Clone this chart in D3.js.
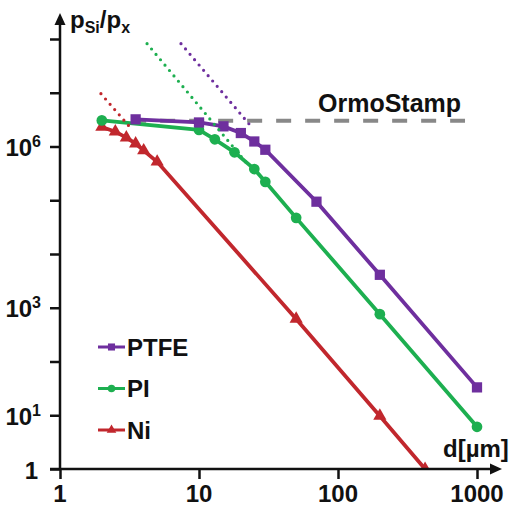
<!DOCTYPE html>
<html>
<head>
<meta charset="utf-8">
<script src="https://cdn.jsdelivr.net/npm/d3@7"></script>
<style>
  body { margin: 0; background: #fff; }
  svg text { font-family: Arial, "Liberation Sans", sans-serif; font-weight: bold; fill: #111; }
</style>
</head>
<body>
<svg id="chart" width="511" height="508"></svg>
<script>
var xTicks = [1, 10, 100, 1000];
var yTicks = [1, 10, 100, 1e3, 1e4, 1e5, 1e6, 1e7, 1e8];
var yLabels = [{v: 1, base: "1", sup: ""}, {v: 10, base: "10", sup: "1"}, {v: 1e3, base: "10", sup: "3"}, {v: 1e6, base: "10", sup: "6"}];

var ptfeD = [3.5, 10, 15, 20, 25, 30, 70, 200, 1000];
var ptfeV = [3.2e6, 2.8e6, 2.37e6, 1.78e6, 1.24e6, 8.7e5, 9.4e4, 4.1e3, 33];
var piD = [2, 10, 13, 18, 25, 30, 50, 200, 1000];
var piV = [3.06e6, 2.03e6, 1.36e6, 7.8e5, 3.8e5, 2.2e5, 4.7e4, 760, 6.1];
var niD = [2, 2.5, 3, 3.5, 4, 5, 50, 200, 423];
var niV = [2.3e6, 1.89e6, 1.46e6, 1.13e6, 8.4e5, 5.2e5, 620, 9.7, 1];

// d^-3 asymptotes (dotted)
var ptfeFitD = [7.42, 24.5], ptfeFitV = [8.2e7, 2.14e6];
var piFitD = [4.23, 22.5], piFitV = [8.2e7, 4.6e5];
var niFitD = [1.97, 3.35], niFitV = [9.6e6, 1.97e6];

var ormoD = [3.25, 820], ormoV = 3.0e6;

var series = [
  {name: "PTFE", color: "#6E2F9E", shape: d3.symbolSquare, size: 105, lsize: 50, d: ptfeD, v: ptfeV, fd: ptfeFitD, fv: ptfeFitV},
  {name: "PI", color: "#1DAF50", shape: d3.symbolCircle, size: 90, lsize: 45, d: piD, v: piV, fd: piFitD, fv: piFitV},
  {name: "Ni", color: "#C1272D", shape: d3.symbolTriangle, size: 75, lsize: 40, d: niD, v: niV, fd: niFitD, fv: niFitV}
];

var svg = d3.select("svg#chart");
var x = d3.scaleLog().domain([1, 1000]).range([60, 477]);
var y = d3.scaleLog().domain([1, 1e8]).range([469, 39]);

var pts = function(ds, vs) {
  return ds.map(function(d, i) { return [x(d), y(vs[i])]; });
};
var line = d3.line();

svg.append("defs").append("clipPath").attr("id", "plot")
  .append("rect").attr("x", x(1)).attr("y", 0).attr("width", 511).attr("height", y(1));

var plot = svg.append("g").attr("clip-path", "url(#plot)");

plot.append("path")
  .attr("d", line(pts(ormoD, ormoD.map(function() { return ormoV; }))))
  .style("fill", "none").style("stroke", "#888").style("stroke-width", 4)
  .style("stroke-dasharray", "15,14");

series.slice().reverse().forEach(function(s) {
  plot.append("path").attr("d", line(pts(s.d, s.v)))
    .style("fill", "none").style("stroke", s.color).style("stroke-width", 3.8);
  plot.selectAll("path.m-" + s.name).data(pts(s.d, s.v)).enter().append("path")
    .classed("m-" + s.name, true)
    .attr("transform", function(p) { return "translate(" + p[0] + "," + p[1] + ")"; })
    .attr("d", d3.symbol().type(s.shape).size(s.size))
    .style("fill", s.color);
});

series.forEach(function(s) {
  plot.append("path").attr("d", line(pts(s.fd, s.fv)))
    .style("fill", "none").style("stroke", s.color).style("stroke-width", 3.2)
    .style("stroke-linecap", "round").style("stroke-dasharray", "0,7");
});

svg.append("text").attr("x", 318).attr("y", 112).style("font-size", "25px").text("OrmoStamp");

// axes
var xAxis = svg.append("g").attr("transform", "translate(0," + y(1) + ")")
  .call(d3.axisBottom(x).tickValues(xTicks).tickSize(10).tickFormat(""));
var yAxis = svg.append("g").attr("transform", "translate(" + x(1) + ",0)")
  .call(d3.axisLeft(y).tickValues(yTicks).tickSize(10).tickFormat(""));
[xAxis, yAxis].forEach(function(a) {
  a.selectAll("path.domain").remove();
  a.selectAll("line").style("stroke", "#111").style("stroke-width", 2.5);
});

svg.append("line").attr("x1", x(1) - 10).attr("x2", x.range()[1] + 18)
  .attr("y1", y(1)).attr("y2", y(1)).style("stroke", "#111").style("stroke-width", 2.5);
svg.append("line").attr("x1", x(1)).attr("x2", x(1))
  .attr("y1", y(1)).attr("y2", y.range()[1] - 18).style("stroke", "#111").style("stroke-width", 2.5);
svg.append("path")
  .attr("d", "M" + (x.range()[1] + 25) + "," + y(1) + "l-12,-5.5v11z").style("fill", "#111");
svg.append("path")
  .attr("d", "M" + x(1) + "," + (y.range()[1] - 26) + "l-5.5,12h11z").style("fill", "#111");

svg.selectAll("text.xt").data(xTicks).enter().append("text").classed("xt", true)
  .attr("x", x).attr("y", y(1) + 33).attr("text-anchor", "middle")
  .style("font-size", "24px").text(function(d) { return d; });

var yl = svg.selectAll("text.yt").data(yLabels).enter().append("text").classed("yt", true)
  .attr("x", function(d) { return d.sup ? 41 : 38; })
  .attr("y", function(d) { return y(d.v) + 9.5; })
  .attr("text-anchor", "end").style("font-size", "24px");
yl.append("tspan").text(function(d) { return d.base; });
yl.append("tspan").attr("dy", -9).style("font-size", "16px").text(function(d) { return d.sup; });

var ttl = svg.append("text").attr("x", 70).attr("y", 28).style("font-size", "24px");
ttl.append("tspan").text("p");
ttl.append("tspan").attr("dy", 5).style("font-size", "16px").text("Si");
ttl.append("tspan").attr("dy", -5).text("/p");
ttl.append("tspan").attr("dy", 5).style("font-size", "16px").text("x");

svg.append("text").attr("x", 443).attr("y", 457).style("font-size", "24px").text("d[\u00b5m]");

// legend
var leg = svg.selectAll("g.leg").data(series).enter().append("g").classed("leg", true)
  .attr("transform", function(s, i) { return "translate(98," + (347 + i * 41.5) + ")"; });
leg.append("line").attr("x1", 0).attr("x2", 27)
  .style("stroke", function(s) { return s.color; }).style("stroke-width", 3);
leg.append("path").attr("transform", "translate(13.5,0)")
  .attr("d", function(s) { return d3.symbol().type(s.shape).size(s.lsize)(); })
  .style("fill", function(s) { return s.color; });
leg.append("text").attr("x", 29).attr("y", 8.5).style("font-size", "24px")
  .text(function(s) { return s.name; });
</script>
</body>
</html>
